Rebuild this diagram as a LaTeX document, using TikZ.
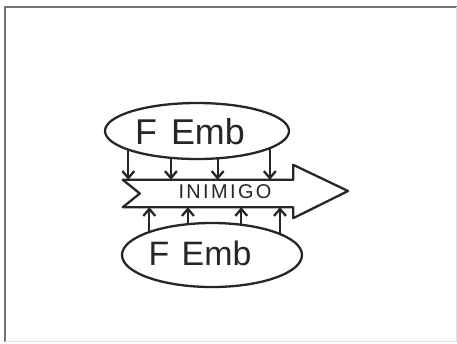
\documentclass[tikz,border=0pt]{standalone}
\usepackage{fontspec}
\setmainfont{Liberation Sans}
\newfontfamily\spacedfont[LetterSpace=12]{Liberation Sans}
\usetikzlibrary{shapes.geometric,arrows.meta}
\begin{document}
\begin{tikzpicture}[x=1bp,y=-1bp,
  ink/.style={draw=black!85,line width=2.3pt,line join=round,line cap=round},
  blob/.style={ink,ellipse,inner sep=0pt},
  bigtxt/.style={font=\fontsize{36}{36}\selectfont,text=black!85,inner sep=0pt},
  push/.style={ink,-{Straight Barb[length=7pt,width=12pt,line width=2.3pt]}}]
\useasboundingbox (0,0) rectangle (457,343);
% frame
\draw[black!55,line width=1.6pt] (5,342) -- (5,7) -- (457,7);
\draw[black!12,line width=1pt] (5,341) -- (456,341) -- (456,7);
% ovals
\node[blob,minimum width=184bp,minimum height=56bp] (e1) at (197,131) {};
\node[blob,minimum width=180bp,minimum height=64bp] (e2) at (212,255) {};
\node[bigtxt] (t1) at (190,132) {F\hspace{4pt} Emb};
\node[bigtxt,font=\fontsize{34}{34}\selectfont] (t2) at (200,253.5) {F\hspace{3pt} Emb};
% band (enemy arrow)
\node[minimum width=153bp,minimum height=27bp,inner sep=0pt] (band) at (216.5,193.5) {};
\coordinate (tip) at (348,191);
\draw[ink] ([xshift=-17bp]band.north west) -- (band.north east) -- ++(0,15bp)
  -- (tip) -- ([yshift=-11bp]band.south east) -- (band.south east)
  -- ([xshift=-17bp]band.south west) -- (band.west) -- cycle;
\node[font=\spacedfont\fontsize{20}{20}\selectfont,text=black!85,inner sep=0pt] (lbl) at (225,192) {INIMIGO};
% pressure arrows from above
\foreach \a in {196.9,227.1,306.2,346.8}
  \draw[push] (e1.\a) -- (band.north -| e1.\a);
% pressure arrows from below
\foreach \a in {159.5,127.9,47.4,18.3}
  \draw[push] (e2.\a) -- (band.south -| e2.\a);
\end{tikzpicture}
\end{document}
